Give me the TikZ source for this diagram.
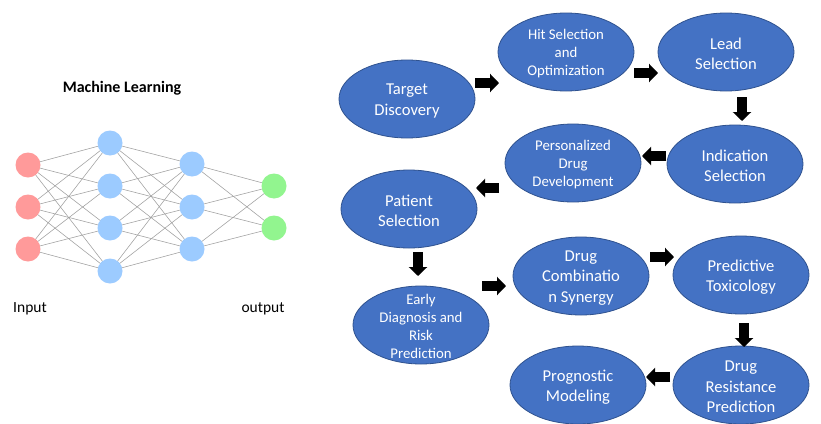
\documentclass[tikz,border=0pt]{standalone}
\usepackage{fontspec}
\setmainfont{Carlito}
\usetikzlibrary{shapes.geometric,arrows.meta}
\definecolor{ellfill}{HTML}{4472C4}
\definecolor{elldraw}{HTML}{2F528F}
\definecolor{inred}{HTML}{FF9A9A}
\definecolor{hidblue}{HTML}{9CCBFF}
\definecolor{outgreen}{HTML}{92F58F}
\tikzset{
  stage/.style={ellipse, fill=ellfill, draw=elldraw, line width=0.8pt, minimum width=136pt, minimum height=78pt, inner sep=0pt},
  big/.style={text=white, align=center, yshift=-2pt, font=\fontsize{16.6}{20.3}\selectfont},
  small/.style={text=white, align=center, yshift=-1.5pt, font=\fontsize{14.8}{18}\selectfont},
  blockarrow/.style={line width=10pt, -{Triangle[length=9pt,width=18pt]}},
  neuron/.style={circle, minimum size=25pt, inner sep=0pt, draw=none},
  syn/.style={draw=gray!75, line width=0.55pt},
  plain/.style={font=\fontsize{15.5}{18}\selectfont},
}
\begin{document}
\begin{tikzpicture}[x=1pt,y=-1pt]
\useasboundingbox[fill=white] (0,0) rectangle (821,423);
% neural network
\foreach \i/\y in {1/165,2/207,3/249} \coordinate (in\i) at (28,\y);
\foreach \i/\y in {1/143,2/186,3/228,4/271} \coordinate (ha\i) at (110,\y);
\foreach \i/\y in {1/164,2/207,3/249} \coordinate (hb\i) at (192,\y);
\foreach \i/\y in {1/186,2/228} \coordinate (out\i) at (274,\y);
\foreach \a in {1,2,3} \foreach \b in {1,2,3,4} \draw[syn] (in\a) -- (ha\b);
\foreach \a in {1,2,3,4} \foreach \b in {1,2,3} \draw[syn] (ha\a) -- (hb\b);
\foreach \a in {1,2,3} \foreach \b in {1,2} \draw[syn] (hb\a) -- (out\b);
\foreach \i in {1,2,3} \node[neuron, fill=inred] (nin\i) at (in\i) {};
\foreach \i in {1,2,3,4} \node[neuron, fill=hidblue] (nha\i) at (ha\i) {};
\foreach \i in {1,2,3} \node[neuron, fill=hidblue] (nhb\i) at (hb\i) {};
\foreach \i in {1,2} \node[neuron, fill=outgreen] (nout\i) at (out\i) {};
\node[font=\fontsize{16}{19}\selectfont\bfseries] (mltitle) at (122,88) {Machine Learning};
\node[plain] (inlabel) at (30,309) {Input};
\node[plain] (outlabel) at (263,309) {output};
% stages
\node[stage, label={[big]center:Target\\Discovery}] (target) at (407,99) {};
\node[stage, label={[small]center:Hit Selection\\and\\Optimization}] (hit) at (566,52) {};
\node[stage, label={[big]center:Lead\\Selection}] (lead) at (726,52) {};
\node[stage, label={[big]center:Indication\\Selection}] (indic) at (735,164) {};
\node[stage, label={[small]center:Personalized\\Drug\\Development}] (pers) at (573,163) {};
\node[stage, label={[big]center:Patient\\Selection}] (patient) at (409,209) {};
\node[stage, label={[small]center:Early\\Diagnosis and\\Risk\\Prediction}] (early) at (421,325) {};
\node[stage, label={[big]center:Drug\\Combinatio\\n Synergy}] (comb) at (581,276) {};
\node[stage, label={[big]center:Predictive\\Toxicology}] (tox) at (741,275) {};
\node[stage, label={[big]center:Drug\\Resistance\\Prediction}] (resist) at (741,385) {};
\node[stage, label={[big]center:Prognostic\\Modeling}] (progn) at (578,385) {};
% arrows
\coordinate (a1s) at (475,83);  \coordinate (a1e) at (499,83);
\coordinate (a2s) at (634,73);  \coordinate (a2e) at (658,73);
\coordinate (a3s) at (742,97);  \coordinate (a3e) at (742,121);
\coordinate (a4s) at (666,156); \coordinate (a4e) at (642,156);
\coordinate (a5s) at (499,188); \coordinate (a5e) at (476,188);
\coordinate (a6s) at (418,252); \coordinate (a6e) at (418,276);
\coordinate (a7s) at (482,286); \coordinate (a7e) at (506,286);
\coordinate (a8s) at (650,257); \coordinate (a8e) at (674,257);
\coordinate (a9s) at (744,323); \coordinate (a9e) at (744,347);
\coordinate (a10s) at (670,377); \coordinate (a10e) at (646,377);
\foreach \k in {1,...,10} \draw[blockarrow] (a\k s) -- (a\k e);
\end{tikzpicture}
\end{document}
